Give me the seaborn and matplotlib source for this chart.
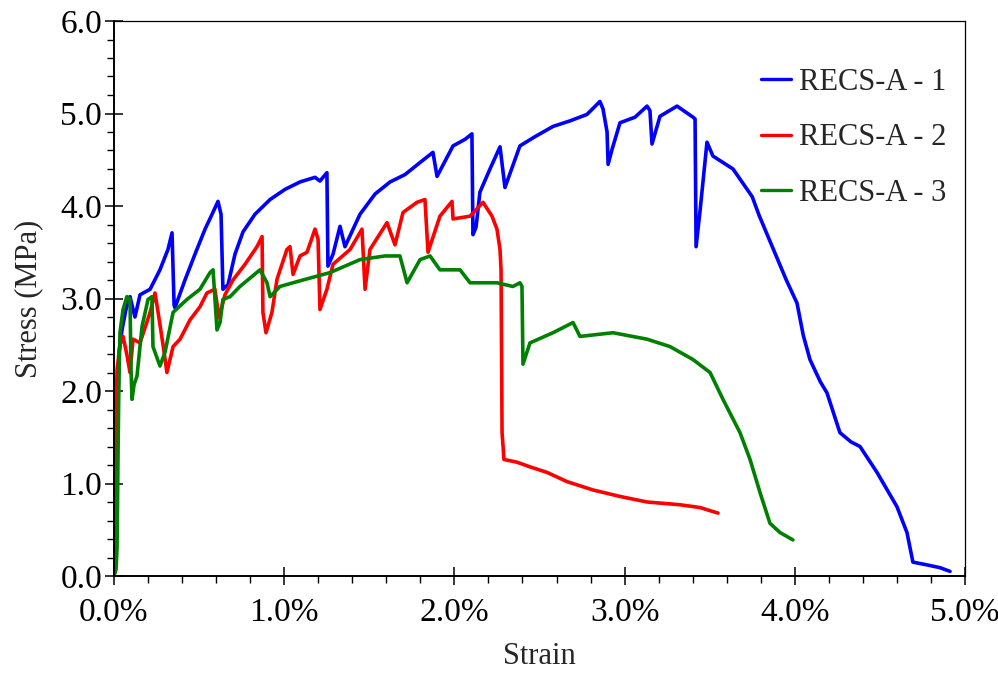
import numpy as np
import pandas as pd
import matplotlib
matplotlib.use("Agg")
import matplotlib.pyplot as plt
from matplotlib.ticker import MultipleLocator, FuncFormatter
import seaborn as sns

# ---------------- data (strain in %, stress in MPa) ----------------
s1_strain = [0.0, 0.012, 0.018, 0.024, 0.03, 0.047, 0.07, 0.094, 0.123, 0.153, 0.212, 0.27, 0.317, 0.341,
             0.353, 0.358, 0.417, 0.476, 0.535, 0.576, 0.611, 0.629, 0.64, 0.67, 0.711, 0.758, 0.828, 0.917,
             1.005, 1.093, 1.181, 1.21, 1.251, 1.257, 1.287, 1.328, 1.357, 1.445, 1.534, 1.622, 1.71, 1.798,
             1.874, 1.898, 1.992, 2.062, 2.103, 2.109, 2.127, 2.15, 2.209, 2.268, 2.297, 2.385, 2.474, 2.579,
             2.679, 2.779, 2.855, 2.873, 2.897, 2.903, 2.926, 2.973, 3.061, 3.132, 3.149, 3.161, 3.208, 3.308,
             3.402, 3.414, 3.42, 3.444, 3.484, 3.519, 3.637, 3.75, 3.79, 3.87, 3.95, 4.013, 4.05, 4.089, 4.15,
             4.189, 4.265, 4.33, 4.383, 4.483, 4.6, 4.659, 4.694, 4.777, 4.853, 4.912]
s1_stress = [0.0, 1.15, 1.4, 1.9, 2.42, 2.66, 2.88, 3.02, 2.8, 3.04, 3.1, 3.31, 3.53, 3.71,
             2.93, 2.9, 3.2, 3.48, 3.75, 3.91, 4.05, 3.91, 3.1, 3.15, 3.48, 3.72, 3.91, 4.07,
             4.18, 4.26, 4.31, 4.27, 4.36, 3.35, 3.48, 3.78, 3.56, 3.91, 4.13, 4.26, 4.34, 4.47,
             4.58, 4.32, 4.65, 4.72, 4.78, 3.69, 3.77, 4.15, 4.4, 4.64, 4.2, 4.65, 4.75, 4.86,
             4.92, 4.99, 5.13, 5.05, 4.8, 4.45, 4.61, 4.9, 4.96, 5.08, 5.03, 4.67, 4.97, 5.08,
             4.96, 4.94, 3.56, 3.96, 4.69, 4.54, 4.4, 4.1, 3.9, 3.55, 3.2, 2.95, 2.6, 2.34, 2.1,
             1.98, 1.55, 1.45, 1.4, 1.12, 0.75, 0.47, 0.15, 0.12, 0.09, 0.05]

s2_strain = [0.0, 0.006, 0.012, 0.018, 0.035, 0.053, 0.076, 0.094, 0.112, 0.153, 0.212, 0.241, 0.259, 0.288,
             0.311, 0.347, 0.388, 0.447, 0.505, 0.546, 0.593, 0.617, 0.652, 0.699, 0.77, 0.84, 0.87, 0.875,
             0.893, 0.928, 0.958, 1.016, 1.034, 1.052, 1.093, 1.134, 1.181, 1.199, 1.21, 1.251, 1.287, 1.387,
             1.457, 1.475, 1.504, 1.604, 1.651, 1.698, 1.78, 1.827, 1.845, 1.915, 1.986, 1.992, 2.092, 2.168,
             2.221, 2.25, 2.268, 2.274, 2.28, 2.286, 2.291, 2.368, 2.444, 2.544, 2.662, 2.814, 2.973, 3.132,
             3.326, 3.443, 3.549]
s2_stress = [0.0, 0.82, 1.77, 2.23, 2.5, 2.59, 2.39, 2.2, 2.56, 2.52, 2.85, 3.06, 2.85, 2.5,
             2.2, 2.48, 2.56, 2.77, 2.91, 3.06, 3.1, 2.79, 3.04, 3.2, 3.37, 3.56, 3.67, 2.85,
             2.63, 2.85, 3.21, 3.53, 3.56, 3.26, 3.46, 3.5, 3.75, 3.64, 2.88, 3.1, 3.37, 3.53,
             3.75, 3.1, 3.53, 3.82, 3.58, 3.93, 4.04, 4.07, 3.5, 3.89, 4.05, 3.86, 3.89, 4.04,
             3.89, 3.75, 3.53, 3.31, 1.55, 1.4, 1.26, 1.23, 1.18, 1.12, 1.02, 0.93, 0.86, 0.8,
             0.77, 0.74, 0.68]

s3_strain = [0.0, 0.012, 0.018, 0.024, 0.029, 0.035, 0.053, 0.076, 0.094, 0.1, 0.106, 0.118, 0.135, 0.165,
             0.2, 0.223, 0.229, 0.27, 0.3, 0.347, 0.429, 0.505, 0.564, 0.582, 0.605, 0.623, 0.64, 0.682,
             0.74, 0.858, 0.899, 0.917, 0.975, 1.11, 1.269, 1.445, 1.592, 1.68, 1.722, 1.798, 1.857, 1.915,
             2.033, 2.092, 2.25, 2.344, 2.385, 2.397, 2.403, 2.444, 2.579, 2.697, 2.738, 2.932, 3.132, 3.267,
             3.402, 3.502, 3.578, 3.678, 3.737, 3.796, 3.854, 3.913, 3.989]
s3_stress = [0.0, 0.07, 0.31, 1.36, 2.12, 2.63, 2.88, 3.02, 2.99, 2.23, 1.91, 2.07, 2.16, 2.7,
             2.99, 3.02, 2.48, 2.27, 2.42, 2.85, 2.99, 3.1, 3.28, 3.31, 2.66, 2.74, 2.99, 3.02,
             3.13, 3.31, 3.17, 3.02, 3.13, 3.2, 3.28, 3.42, 3.46, 3.46, 3.17, 3.42, 3.46, 3.31,
             3.31, 3.17, 3.17, 3.13, 3.17, 3.13, 2.29, 2.52, 2.63, 2.74, 2.59, 2.63, 2.56, 2.48,
             2.34, 2.2, 1.91, 1.55, 1.26, 0.9, 0.57, 0.47, 0.39]

labels = ["RECS-A - 1", "RECS-A - 2", "RECS-A - 3"]
colors = ["#0000FF", "#FF0000", "#008000"]

x_ticks = [0, 1, 2, 3, 4, 5]
y_ticks = [0, 1, 2, 3, 4, 5, 6]

# ---------------- build table ----------------
frames = []
for lab, xs, ys in zip(labels, [s1_strain, s2_strain, s3_strain], [s1_stress, s2_stress, s3_stress]):
    frames.append(pd.DataFrame({"Strain": xs, "Stress": ys, "Specimen": lab}))
df = pd.concat(frames, ignore_index=True)

# ---------------- style ----------------
sns.set_style("ticks")
plt.rcParams["font.family"] = ["Liberation Serif", "DejaVu Serif"]
plt.rcParams["font.size"] = 22

fig = plt.figure(figsize=(9.98, 6.77), dpi=100)
ax = fig.add_axes([114 / 998, 1 - 576 / 677, (965 - 114) / 998, (576 - 21) / 677])

sns.lineplot(data=df, x="Strain", y="Stress", hue="Specimen", palette=colors,
             sort=False, estimator=None, linewidth=2.6, ax=ax)

ax.set_xlim(0, 5)
ax.set_ylim(0, 6)
ax.set_xticks(x_ticks)
ax.set_yticks(y_ticks)
ax.xaxis.set_minor_locator(MultipleLocator(0.2))
ax.yaxis.set_minor_locator(MultipleLocator(0.2))
ax.xaxis.set_major_formatter(FuncFormatter(lambda v, p: f"{v:.1f}%"))
ax.yaxis.set_major_formatter(FuncFormatter(lambda v, p: f"{v:.1f}"))

ax.tick_params(which="major", direction="inout", length=13, width=1.1, labelsize=24, pad=2,
               color="black", labelcolor="black")
ax.tick_params(which="minor", direction="out", length=5, width=1.0, color="black")
ax.tick_params(axis="x", which="major", pad=9)
ax.tick_params(top=False, right=False, which="both")

for side in ["left", "bottom"]:
    ax.spines[side].set_linewidth(1.4)
    ax.spines[side].set_color("black")
for side in ["top", "right"]:
    ax.spines[side].set_visible(True)
    ax.spines[side].set_linewidth(0.9)
    ax.spines[side].set_color("black")

ax.set_xlabel("Strain", fontsize=22, labelpad=10)
ax.set_ylabel("Stress (MPa)", fontsize=22, labelpad=12)

leg = ax.legend(loc="upper right", bbox_to_anchor=(0.978, 0.916), frameon=True, fontsize=22,
                handlelength=1.0, handletextpad=0.25, labelspacing=0.87, borderpad=0.0,
                borderaxespad=0.0)
leg.get_frame().set_edgecolor("none")
leg.get_frame().set_facecolor("white")
leg.get_frame().set_alpha(1.0)
for line in leg.get_lines():
    line.set_linewidth(2.4)

fig.savefig("out.png", dpi=100)
